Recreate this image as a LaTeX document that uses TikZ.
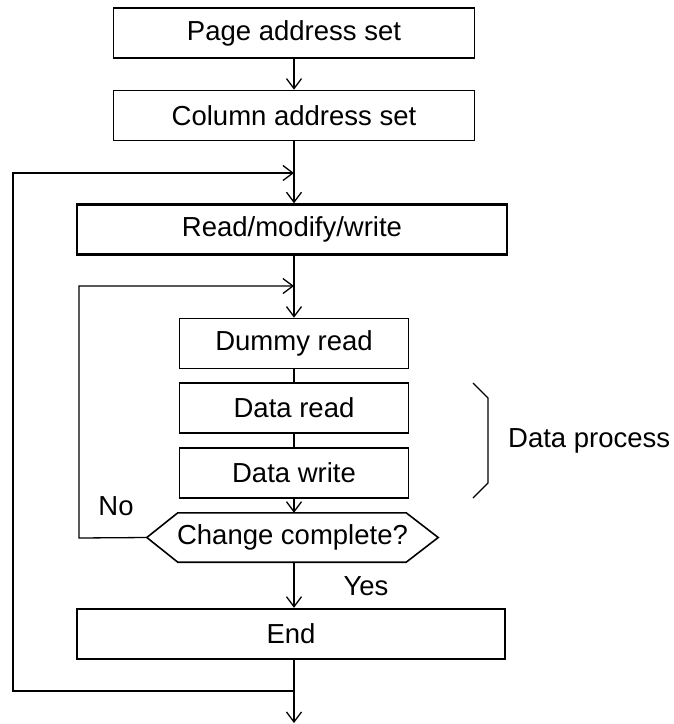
\documentclass[tikz,border=0pt]{standalone}
\usepackage{fontspec}
\setmainfont{Liberation Sans}
\usetikzlibrary{arrows.meta}
\begin{document}
\begin{tikzpicture}[x=1pt,y=-1pt,
  every node/.style={font=\fontsize{27.5}{31}\selectfont},
  box/.style={draw, line width=1.6pt, rectangle, inner sep=0pt, minimum height=50pt},
  bigbox/.style={box, line width=2.4pt},
  conn/.style={line width=1.3pt},
  arr/.style={conn, -{Straight Barb[length=10pt,width=15pt,line width=1.3pt]}},
  lbl/.style={inner sep=0pt}]
\useasboundingbox (0,0) rectangle (674,724);
\node[box, minimum width=361pt] (page) at (294,33) {Page address set};
\node[box, minimum width=361pt] (col) at (294,115.5) {Column address set};
\node[bigbox, minimum width=430pt] (rmw) at (292,229.5) {Read/modify/write};
\node[box, minimum width=229pt] (dummy) at (294,343.5) {Dummy read};
\node[box, minimum width=229pt] (dread) at (294,408) {Data read};
\node[box, minimum width=229pt] (dwrite) at (294,473) {Data write};
\node[inner sep=0pt, minimum width=291pt, minimum height=49pt] (dec) at (292.5,537.5) {Change complete?};
\draw[line width=1.6pt] (dec.west) -- ([xshift=31pt]dec.north west) -- ([xshift=-32pt]dec.north east)
  -- (dec.east) -- ([xshift=-32pt]dec.south east) -- ([xshift=31pt]dec.south west) -- cycle;
\node[bigbox, minimum width=428pt] (end) at (291,634) {End};

\coordinate (j1) at (294,173);
\coordinate (j2) at (294,286);
\coordinate (j3) at (294,691);
\coordinate (out) at (294,723);
\coordinate (l1a) at (13,691);
\coordinate (l1b) at (13,173);
\coordinate (l2a) at (79,538);
\coordinate (l2b) at (79,286);

\draw[arr] (page.south -| j1) -- (col.north -| j1);
\draw[conn] (col.south -| j1) -- (j1);
\draw[arr] (j1) -- (rmw.north -| j1);
\draw[conn] (rmw.south -| j2) -- (j2);
\draw[arr] (j2) -- (dummy.north);
\draw[conn] (dummy.south) -- (dread.north);
\draw[conn] (dread.south) -- (dwrite.north);
\draw[arr] (dwrite.south) -- (dec.north -| dwrite.south);
\draw[arr] (dec.south -| j3) -- (end.north -| j3);
\draw[conn] (end.south -| j3) -- (j3);
\draw[arr] (j3) -- (out);
\draw[arr] (j3) -- (l1a) -- (l1b) -- (j1);
\draw[arr] (dec.west) -- (l2a) -- (l2b) -- (j2);

\draw[conn] (473,383) -- (488,398) -- (488,483) -- (473,498);
\node[lbl, anchor=west] (dp) at (508,441) {Data process};
\node[lbl] (no) at (116,506) {No};
\node[lbl] (yes) at (366,586) {Yes};
\end{tikzpicture}
\end{document}
